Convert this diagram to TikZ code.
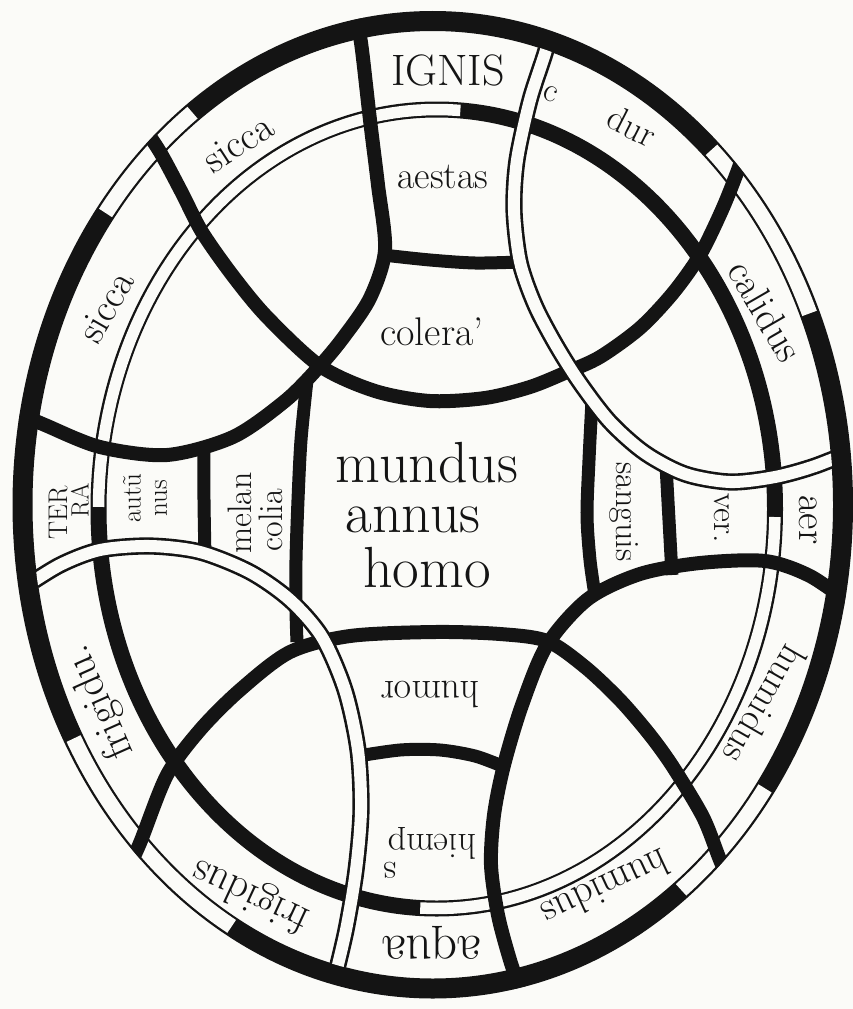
\documentclass[tikz,border=0pt]{standalone}
\usepackage{tikz}
\usetikzlibrary{calc}
\definecolor{ink}{HTML}{141414}
\definecolor{paper}{HTML}{FBFBF8}
\tikzset{
  rim/.style={draw=ink, line width=20pt},
  rimgap/.style={draw=paper, line width=15.5pt},
  ring/.style={draw=ink, line width=16pt},
  ringgap/.style={draw=paper, line width=11.5pt},
  arcline/.style={draw=ink, line width=14pt},
  divider/.style={draw=ink, line width=13pt},
  whiteband/.style={draw=ink, line width=2.6pt, double=paper, double distance=12pt},
  word/.style={inner sep=0pt, text=ink, font=\fontsize{#1}{#1}\selectfont}
}
\begin{document}
\begin{tikzpicture}[x=1pt, y=-1pt]
\fill[paper] (0,0) rectangle (853,1009);
\useasboundingbox (0,0) rectangle (853,1009);

% outer rim, black with light gaps
\draw[rim] (432.75,504.75) ellipse [x radius=410.25, y radius=483.75];
\foreach \a/\b in {-142.9/-125.85, -47.2/-23.3, 35.9/52.75, 119.35/151.1}
  \draw[rimgap] plot[domain=\a:\b, samples=40, variable=\t]
    ({432.75+410.25*cos(\t)}, {504.75+483.75*sin(\t)});

% inner ring, black and white by quarters
\draw[ring] (436.75,509) ellipse [x radius=338.25, y radius=399.5];
\foreach \a/\b in {1.15/92.8, 180.3/274}
  \draw[ringgap] plot[domain=\a:\b, samples=50, variable=\t]
    ({436.75+338.25*cos(\t)}, {509+399.5*sin(\t)});

% black arcs
\begin{scope}
\clip (432.75,504.75) ellipse [x radius=420, y radius=493.5];
\draw[arcline] plot[smooth] coordinates {(140,122) (160,152) (182,193) (202,232) (233,276)
  (267,317) (320,366) (375,391) (430,401) (485,398) (530,387) (567,372) (600,357)
  (640,328) (673,293) (700,255) (722,210) (738,170) (748,140)};
\draw[arcline] plot[smooth] coordinates {(125,875) (140,843) (167,775) (200,730) (240,690)
  (290,652) (350,636) (435,632) (500,634) (547,641) (585,667) (620,700) (650,735)
  (673,767) (703,817) (720,860) (732,887)};
\draw[arcline] plot[smooth] coordinates {(357,18) (362,50) (370,120) (378,185) (385,250)
  (370,298) (343,338) (318,368) (285,401) (233,437) (167,455) (100,447) (45,425) (20,414)};
\draw[arcline] plot[smooth] coordinates {(522,995) (510,960) (498,915) (491,865) (494,815)
  (504,765) (522,705) (547,645) (588,599) (640,574) (700,563) (765,561) (810,576) (852,605)};
\end{scope}

% cell walls
\draw[divider] plot[smooth] coordinates {(307,380) (301,440) (298,500) (296,560) (296,610) (297,642)};
\draw[divider] plot[smooth] coordinates {(592,400) (589,460) (587,515) (590,560) (595,595)};
\draw[divider] plot[smooth] coordinates {(383,255) (430,260) (475,263) (520,262)};
\draw[divider] plot[smooth] coordinates {(666,465) (669,520) (672,575)};
\draw[divider] plot[smooth] coordinates {(352,757) (400,750) (440,750) (475,756) (502,766)};
\draw[divider] plot[smooth] coordinates {(204,448) (204,500) (205,558)};

% white bands
\begin{scope}
\clip (432.75,504.75) ellipse [x radius=400.5, y radius=474];
\draw[whiteband] plot[smooth] coordinates {(552,20) (546,50) (530,100) (517,160) (514,210)
  (520,262) (535,305) (556,345) (580,383) (610,422) (645,453) (685,474) (730,482)
  (775,477) (815,466) (860,448)};
\draw[whiteband] plot[smooth] coordinates {(20,590) (60,565) (100,550) (150,546) (200,552)
  (250,572) (290,600) (322,637) (345,690) (358,750) (361,810) (356,870) (346,930) (333,985)};
\end{scope}

% words
\node[word=44] (ignis) at (448,70) {IGNIS};
\node[word=34, rotate=-20] (cmark) at (551,94) {c};
\node[word=36, rotate=-27] (dur) at (632,126) {dur};
\node[word=40, rotate=-60] (calidus) at (766,311) {calidus};
\node[word=40, rotate=-90] (aer) at (808,520) {aer};
\node[word=38, rotate=-120] (humidusA) at (765,705) {humidus};
\node[word=40, rotate=-155] (humidusB) at (606,889) {humidus};
\node[word=52, rotate=180] (aqua) at (432,943) {aqua};
\node[word=42, rotate=155] (frigidusA) at (251,895) {frigidus};
\node[word=42, rotate=114] (frigidusB) at (100,702) {frigidu.};
\node[word=27, rotate=90] (terA) at (58,513) {TER};
\node[word=25, rotate=90] (terB) at (80,500) {RA};
\node[word=40, rotate=60] (siccaA) at (106,307) {sicca};
\node[word=40, rotate=33] (siccaB) at (238,143) {sicca};
\node[word=38] (aestas) at (443,177) {aestas};
\node[word=40] (colera) at (432,332) {colera'};
\node[word=58] (mundus) at (427,463) {mundus};
\node[word=58] (annus) at (413,520) {annus};
\node[word=58] (homo) at (427,568) {homo};
\node[word=27, rotate=90] (autA) at (132,498) {autũ};
\node[word=27, rotate=90] (autB) at (161,498) {nus};
\node[word=34, rotate=90] (melA) at (240,513) {melan};
\node[word=34, rotate=90] (melB) at (271,520) {colia};
\node[word=34, rotate=-90] (sanguis) at (624,512) {sanguis};
\node[word=34, rotate=-90] (ver) at (722,518) {ver.};
\node[word=38, rotate=180] (humor) at (430,695) {humor};
\node[word=36, rotate=180] (hiemp) at (432,843) {hiemp};
\node[word=36, rotate=180] (hiems) at (390,870) {s};
\end{tikzpicture}
\end{document}
